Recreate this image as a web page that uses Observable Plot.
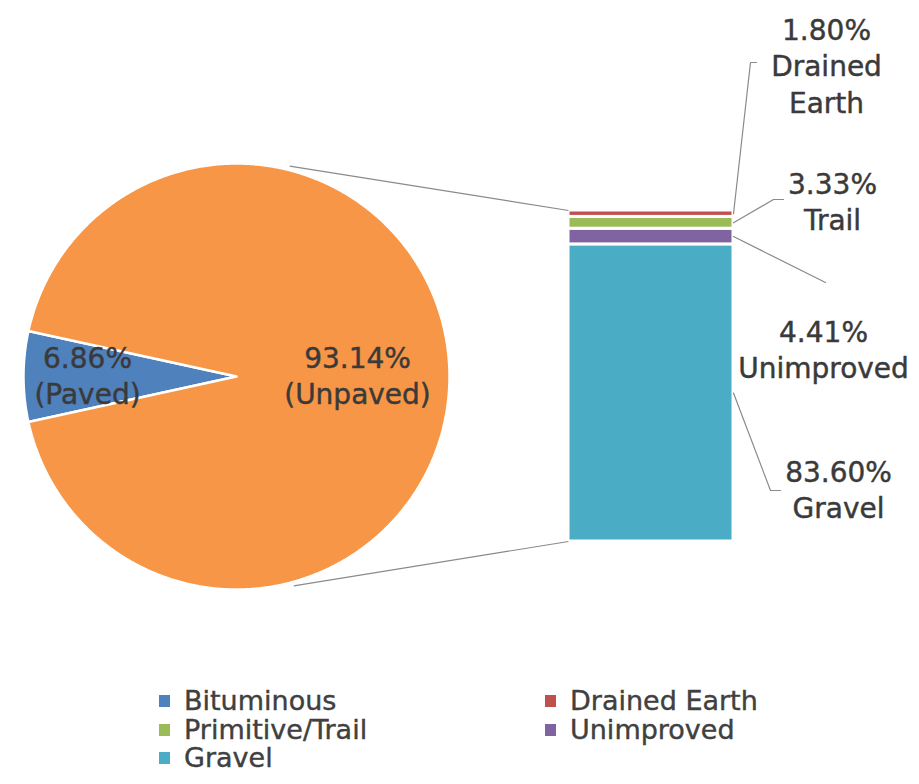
<!DOCTYPE html>
<html>
<head>
<meta charset="utf-8">
<script src="https://cdn.jsdelivr.net/npm/d3@7"></script>
<script src="https://cdn.jsdelivr.net/npm/@observablehq/plot@0.6"></script>
<style>
  body { margin: 0; background: #fff; font-family: "DejaVu Sans", sans-serif; }
  #wrap { position: relative; width: 919px; height: 660px; }
  #wrap svg { position: absolute; left: 0; top: 0; }
  #legend { position: relative; width: 919px; height: 124px; color: #404040; font-size: 27px; -webkit-text-stroke: 0.4px #404040; }
  .item { position: absolute; display: flex; align-items: center; line-height: 28.5px; white-space: nowrap; }
  .sw { width: 11px; height: 12px; margin-right: 14px; flex: none; }
</style>
</head>
<body>
<div id="wrap"></div>
<div id="legend"></div>
<script>
// ---------- data ----------
const pieCategories = ["Paved", "Unpaved"];
const pieValues = [6.86, 93.14];
const pieLabels = ["6.86%\n(Paved)", "93.14%\n(Unpaved)"];

const barCategories = ["Gravel", "Unimproved", "Trail", "Drained Earth"];
const barValues = [83.60, 4.41, 3.33, 1.80];
const barLabels = ["83.60%\nGravel", "4.41%\nUnimproved", "3.33%\nTrail", "1.80%\nDrained\nEarth"];

const legendNames = ["Bituminous", "Drained Earth", "Primitive/Trail", "Unimproved", "Gravel"];

// ---------- styles ----------
const pieColors = ["#4F81BD", "#F79646"];
const barColors = ["#4BACC6", "#8064A2", "#9BBB59", "#C0504D"];
const legendColors = ["#4F81BD", "#C0504D", "#9BBB59", "#8064A2", "#4BACC6"];
const textColor = "#3a3a3a";
const lineColor = "#8a8a8a";

// ---------- layout ----------
const W = 919, H = 660;
const cx = 236, cy = 376, r = 213;
const bar = {left: 568, right: 733, top: 210, bottom: 541};
const connectorAngles = [14.2, 164.7]; // degrees clockwise from 12 o'clock
const connectorRadius = r + 4;
const pieLabelPos = [{x: 87, y: 374}, {x: 357, y: 374}];
const barLabelPos = [{x: 838, y: 488}, {x: 823, y: 348}, {x: 832, y: 200}, {x: 826, y: 64}];
const leaderElbows = [
  [[770, 490], [780, 490]],
  [[825, 282]],
  [[773, 199], [783, 199]],
  [[750, 62], [756, 62]]
];
const legendCols = [159, 545];
const legendTop = 27, legendRow = 28.5;

// ---------- bar (secondary) ----------
const total = d3.sum(barValues);
const barData = barCategories.map((c, i) => ({cat: c, value: barValues[i]}));
const plotB = Plot.plot({
  width: W, height: H, margin: 0,
  style: {background: "transparent"},
  x: {type: "band", domain: ["Unpaved"], range: [bar.left, bar.right], padding: 0, axis: null},
  y: {domain: [0, total], range: [bar.bottom, bar.top], axis: null},
  color: {domain: barCategories, range: barColors},
  marks: [
    Plot.barY(barData, {x: () => "Unpaved", y: "value", fill: "cat", stroke: "white", strokeWidth: 3, inset: 0})
  ]
});
const yB = plotB.scale("y");

// ---------- pie ----------
const bluePortion = pieValues[0] / d3.sum(pieValues) * 2 * Math.PI;
const start = 1.5 * Math.PI - bluePortion / 2;
const arcs = d3.pie().sort(null).startAngle(start).endAngle(start + 2 * Math.PI)(pieValues);
function wedge(a, k) {
  const pts = [{x: cx, y: cy, k}];
  const n = Math.max(4, Math.ceil((a.endAngle - a.startAngle) / (Math.PI / 360)));
  for (let j = 0; j <= n; j++) {
    const t = a.startAngle + (a.endAngle - a.startAngle) * j / n;
    pts.push({x: cx + r * Math.sin(t), y: cy - r * Math.cos(t), k});
  }
  pts.push({x: cx, y: cy, k});
  return pts;
}
const wedges = arcs.map((a, i) => wedge(a, pieCategories[i]));

// connectors from pie to bar
const connectors = connectorAngles.map((deg, i) => {
  const t = deg * Math.PI / 180;
  return {
    x1: cx + connectorRadius * Math.sin(t), y1: cy - connectorRadius * Math.cos(t),
    x2: bar.left, y2: i === 0 ? bar.top : bar.bottom
  };
});

// leader lines from bar segments to labels
let cum = 0;
const leaders = [];
barValues.forEach((v, i) => {
  const mid = cum + v / 2; cum += v;
  leaders.push({x: bar.right, y: yB.apply(mid), k: i});
  leaderElbows[i].forEach(([x, y]) => leaders.push({x, y, k: i}));
});

const textData = [
  ...pieLabels.map((t, i) => ({t, ...pieLabelPos[i]})),
  ...barLabels.map((t, i) => ({t, ...barLabelPos[i]}))
];

const plotA = Plot.plot({
  width: W, height: H, margin: 0,
  style: {background: "transparent"},
  x: {type: "linear", domain: [0, W], range: [0, W], axis: null},
  y: {type: "linear", domain: [0, H], range: [0, H], axis: null},
  marks: [
    ...wedges.map((w, i) => Plot.line(w, {x: "x", y: "y", fill: pieColors[i], stroke: "white", strokeWidth: 2.5, strokeLinejoin: "miter"})),
    Plot.link(connectors, {x1: "x1", y1: "y1", x2: "x2", y2: "y2", stroke: lineColor, strokeWidth: 1.2}),
    Plot.line(leaders, {x: "x", y: "y", z: "k", stroke: lineColor, strokeWidth: 1.2}),
    Plot.text(textData, {x: "x", y: "y", text: "t", fontSize: 28, lineHeight: 1.3, fill: textColor, stroke: textColor, strokeWidth: 0.45, fontFamily: "DejaVu Sans", textAnchor: "middle"})
  ]
});

const wrap = document.getElementById("wrap");
wrap.appendChild(plotB);
wrap.appendChild(plotA);

// ---------- legend ----------
const legend = document.getElementById("legend");
legendNames.forEach((name, i) => {
  const item = document.createElement("div");
  item.className = "item";
  item.style.left = legendCols[i % 2] + "px";
  item.style.top = (legendTop + Math.floor(i / 2) * legendRow) + "px";
  const sw = document.createElement("span");
  sw.className = "sw";
  sw.style.background = legendColors[i];
  const tx = document.createElement("span");
  tx.textContent = name;
  item.appendChild(sw); item.appendChild(tx);
  legend.appendChild(item);
});
</script>
</body>
</html>
